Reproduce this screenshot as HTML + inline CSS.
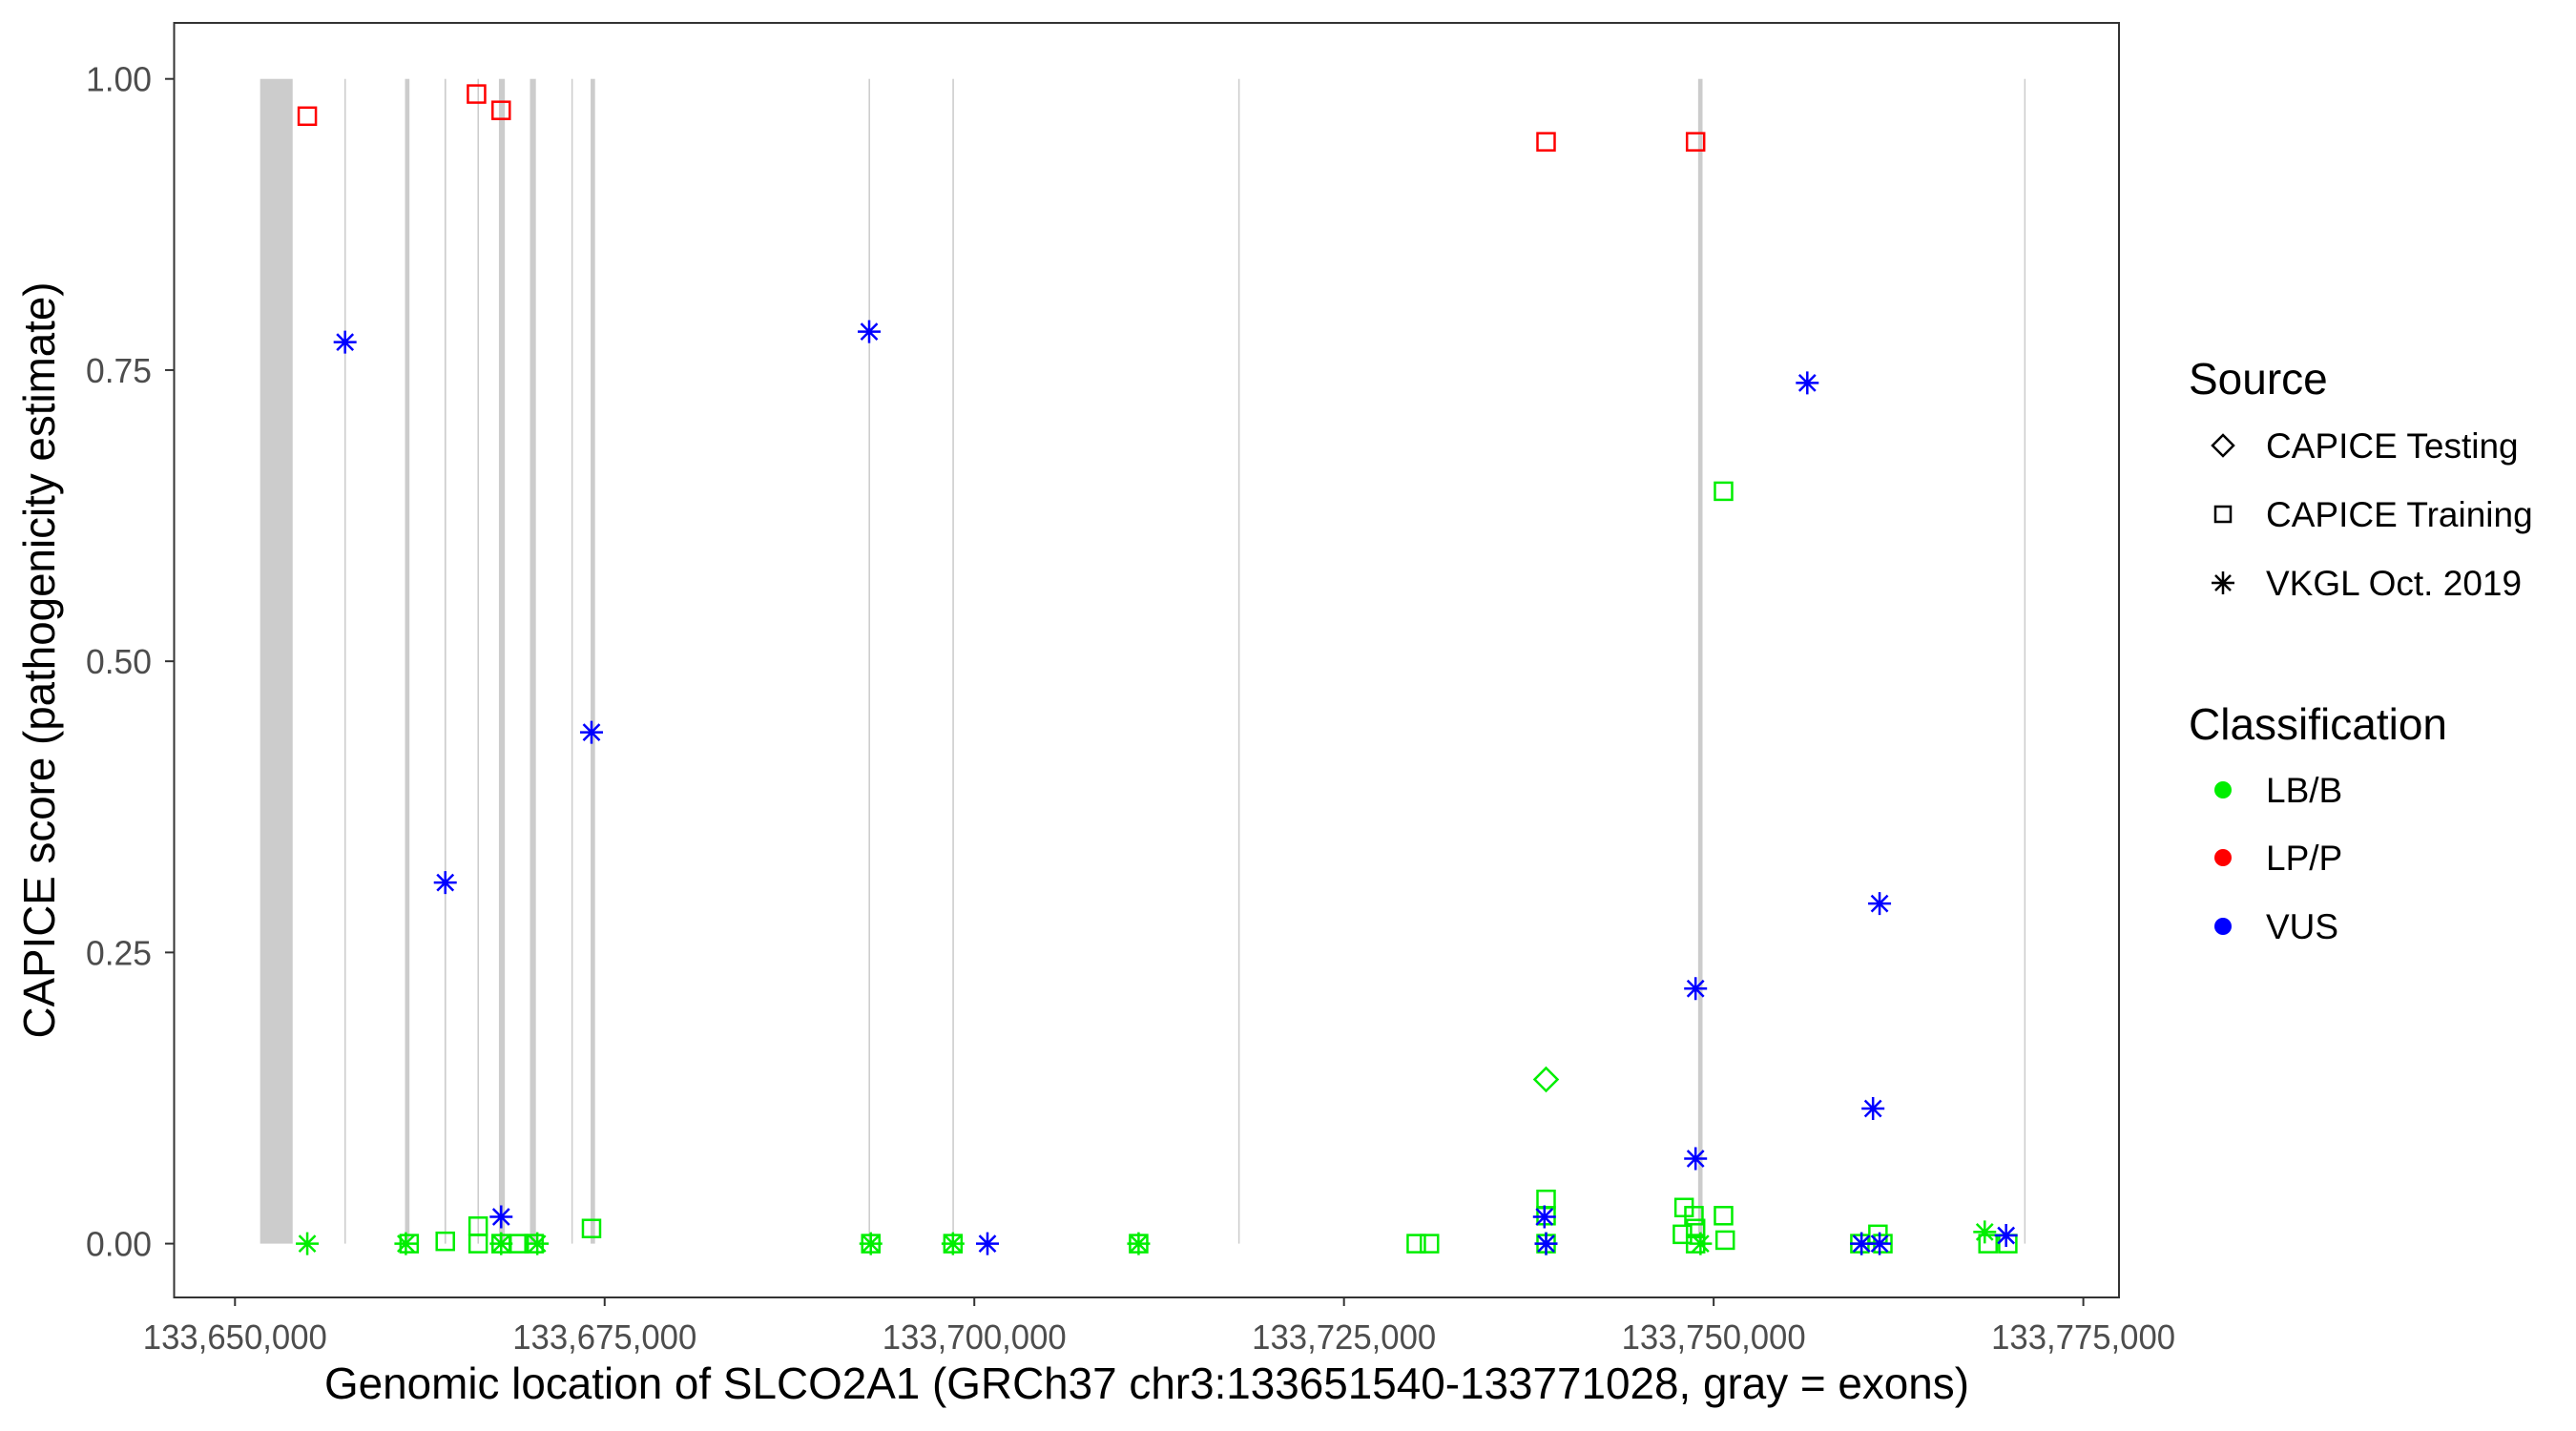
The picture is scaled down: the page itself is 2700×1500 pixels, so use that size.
<!DOCTYPE html>
<html><head><meta charset="utf-8"><style>
html,body{margin:0;padding:0;background:#fff;}
svg{display:block;font-family:"Liberation Sans",sans-serif;}
</style></head><body>
<svg id="chart" width="2700" height="1500" viewBox="0 0 2700 1500">
<rect x="0" y="0" width="2700" height="1500" fill="#fff"/>
<g id="exons"></g>
<g id="points"></g>
<rect x="182.5" y="24" width="2038.5" height="1336" fill="none" stroke="#333" stroke-width="2"/>
<g id="axes"></g>
<text x="1202" y="1466" font-size="46" text-anchor="middle" textLength="1724" lengthAdjust="spacingAndGlyphs" fill="#000">Genomic location of SLCO2A1 (GRCh37 chr3:133651540-133771028, gray = exons)</text>
<text transform="translate(57,692) rotate(-90)" font-size="46" text-anchor="middle" textLength="793" lengthAdjust="spacingAndGlyphs" fill="#000">CAPICE score (pathogenicity estimate)</text>
<g>
<text x="2294" y="413" font-size="46">Source</text>
<path d="M2330 456 L2341 467 L2330 478 L2319 467 Z" fill="none" stroke="#000" stroke-width="2.5"/>
<text x="2375" y="480" font-size="37">CAPICE Testing</text>
<rect x="2322" y="531" width="16" height="16" fill="none" stroke="#000" stroke-width="2.5"/>
<text x="2375" y="552" font-size="37">CAPICE Training</text>
<path d="M2318 611 H2342 M2330 599 V623 M2322 603 L2338 619 M2338 603 L2322 619" stroke="#000" stroke-width="2.5"/>
<text x="2375" y="624" font-size="37">VKGL Oct. 2019</text>
<text x="2294" y="775" font-size="46">Classification</text>
<circle cx="2330" cy="828" r="9" fill="#00ee00"/>
<text x="2375" y="841" font-size="37">LB/B</text>
<circle cx="2330" cy="899" r="9" fill="#ff0000"/>
<text x="2375" y="912" font-size="37">LP/P</text>
<circle cx="2330" cy="971" r="9" fill="#0000ff"/>
<text x="2375" y="984" font-size="37">VUS</text>
</g>
</svg>
<script>
const xTicks = [133650000, 133675000, 133700000, 133725000, 133750000, 133775000];
const xTickLabels = ["133,650,000","133,675,000","133,700,000","133,725,000","133,750,000","133,775,000"];
const yTicks = [0, 0.25, 0.5, 0.75, 1];
const yTickLabels = ["0.00","0.25","0.50","0.75","1.00"];
const exonStarts = [133651700,133657400,133661500,133664170,133666400,133667850,133669950,133672750,133674050,133692850,133698520,133717850,133748950,133771000];
const exonEnds   = [133653900,133657500,133661800,133664280,133666500,133668250,133670350,133672800,133674350,133692950,133698620,133717900,133749250,133771050];
const redPos = [133654889,133666333,133668000,133738667,133748778];
const redScore = [0.968,0.987,0.973,0.946,0.946];
const bluePos = [133657444,133692889,133664222,133674111,133668000,133756333,133761222,133748778,133760778,133748778,133738556,133738667,133700889,133761222,133769778,133760000];
const blueScore = [0.774,0.783,0.310,0.439,0.023,0.739,0.292,0.219,0.116,0.073,0.023,0,0,0,0.007,0];
const greenStarPos = [133654889,133661556,133668000,133670444,133693000,133698556,133711111,133749111,133760000,133768333,133738667];
const greenStarScore = [0,0,0,0,0,0,0,0,0,0.01,0];
const greenSqPos = [133661778,133664222,133666444,133666444,133668000,133669222,133670222,133674111,133693000,133698556,133711111,133729889,133730778,133738667,133738667,133738667,133748000,133747889,133748667,133748778,133748778,133750667,133750667,133750778,133759889,133761111,133761444,133768556,133769889];
const greenSqScore = [0,0.002,0.015,0,0,0,0,0.013,0,0,0,0,0,0.038,0.024,0,0.031,0.008,0.024,0.013,0,0.646,0.024,0.003,0,0.008,0,0,0];
const greenDiaPos = [133738667];
const greenDiaScore = [0.141];

const X0=246.3, X1=2183.6, G0=133650000, G1=133775000;
const Y0=1303.6, Y1=82.7;
function xs(g){return X0+(g-G0)/(G1-G0)*(X1-X0);}
function ys(v){return Y0+(v)*(Y1-Y0);}
const NS="http://www.w3.org/2000/svg";
function mk(tag,attrs,parent){const e=document.createElementNS(NS,tag);for(const k in attrs)e.setAttribute(k,attrs[k]);parent.appendChild(e);return e;}
const ex=document.getElementById('exons');
for(let i=0;i<exonStarts.length;i++){
  const a=xs(exonStarts[i]), b=xs(exonEnds[i]);
  const r=mk('rect',{x:a,y:ys(1),width:Math.max(b-a,1.5),height:ys(0)-ys(1),fill:'#cccccc'},ex);
  
  
}
const ax=document.getElementById('axes');
for(let i=0;i<xTicks.length;i++){
  const x=xs(xTicks[i]);
  const t=mk('line',{x1:x,x2:x,y1:1360,y2:1369,stroke:'#333','stroke-width':2},ax);
  
  
  const l=mk('text',{x:x,y:1414,'font-size':36,'text-anchor':'middle',textLength:193,lengthAdjust:'spacingAndGlyphs',fill:'#4d4d4d'},ax);
  l.textContent=xTickLabels[i];
  
  
}
for(let i=0;i<yTicks.length;i++){
  const y=ys(yTicks[i]);
  const t=mk('line',{x1:173,x2:182,y1:y,y2:y,stroke:'#333','stroke-width':2},ax);
  
  
  const l=mk('text',{x:159,y:y+13,'font-size':36,'text-anchor':'end',textLength:69,lengthAdjust:'spacingAndGlyphs',fill:'#4d4d4d'},ax);
  l.textContent=yTickLabels[i];
  
  
}
const pts=document.getElementById('points');
function square(g,v,c){const x=xs(g),y=ys(v);const e=mk('rect',{x:x-9,y:y-9,width:18,height:18,fill:'none',stroke:c,'stroke-width':2.5},pts);
  
  }
function star(g,v,c){const x=xs(g),y=ys(v),r=12,d=8.5;const e=mk('path',{d:`M${x-r} ${y}H${x+r}M${x} ${y-r}V${y+r}M${x-d} ${y-d}L${x+d} ${y+d}M${x+d} ${y-d}L${x-d} ${y+d}`,stroke:c,'stroke-width':2.5,fill:'none'},pts);
  
  }
function diamond(g,v,c){const x=xs(g),y=ys(v),r=12;const e=mk('path',{d:`M${x} ${y-r}L${x+r} ${y}L${x} ${y+r}L${x-r} ${y}Z`,stroke:c,'stroke-width':2.5,fill:'none'},pts);
  
  }
greenSqPos.forEach((g,i)=>square(g,greenSqScore[i],'#00ee00'));
greenStarPos.forEach((g,i)=>star(g,greenStarScore[i],'#00ee00'));
greenDiaPos.forEach((g,i)=>diamond(g,greenDiaScore[i],'#00ee00'));
redPos.forEach((g,i)=>square(g,redScore[i],'#ff0000'));
bluePos.forEach((g,i)=>star(g,blueScore[i],'#0000ff'));
</script>
</body></html>
